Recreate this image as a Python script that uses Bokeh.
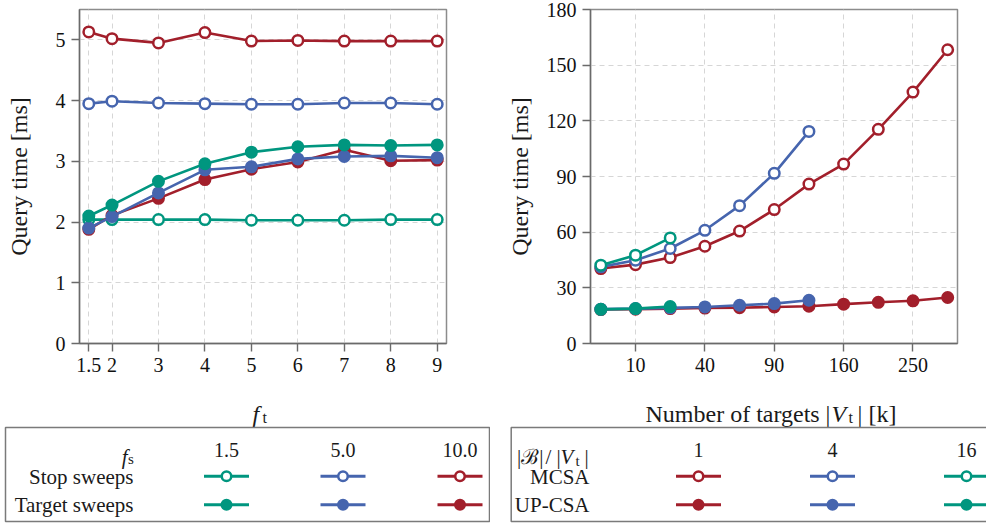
import numpy as np
from bokeh.plotting import figure
from bokeh.models import Range1d, FixedTicker, CustomJSTickFormatter
from bokeh.layouts import row, column
from bokeh.embed import file_html
from bokeh.resources import INLINE
from bokeh.core.properties import value

RED = "#A21F2B"
BLUE = "#4665AE"
GREEN = "#00967F"
FONT = "Liberation Serif"
TXT = "#1a1a1a"

# ---------------- data: left panel ----------------
ft = [1.5, 2, 3, 4, 5, 6, 7, 8, 9]
stop_fs15 = [2.04, 2.04, 2.04, 2.04, 2.03, 2.03, 2.03, 2.04, 2.04]
stop_fs50 = [3.95, 3.99, 3.96, 3.95, 3.94, 3.94, 3.96, 3.96, 3.94]
stop_fs100 = [5.13, 5.02, 4.95, 5.12, 4.98, 4.99, 4.98, 4.98, 4.98]
tgt_fs15 = [2.10, 2.28, 2.67, 2.96, 3.15, 3.24, 3.27, 3.26, 3.27]
tgt_fs50 = [1.90, 2.09, 2.48, 2.86, 2.91, 3.04, 3.08, 3.09, 3.06]
tgt_fs100 = [1.88, 2.11, 2.39, 2.70, 2.87, 2.99, 3.19, 3.01, 3.02]
left_yticks = [0, 1, 2, 3, 4, 5]
fs_labels = ["1.5", "5.0", "10.0"]
fs_colors = [GREEN, BLUE, RED]

# ---------------- data: right panel ----------------
targets_k = [2.5, 10, 22.5, 40, 62.5, 90, 122.5, 160, 202.5, 250, 302.5]
mcsa_1 = [40.4, 42.5, 46.3, 52.4, 60.6, 72.2, 85.9, 96.7, 115.4, 135.5, 158.3]
mcsa_4 = [41.3, 44.9, 51.2, 61.0, 74.3, 91.7, 114.3]
mcsa_16 = [42.2, 47.6, 56.9]
upcsa_1 = [18.3, 18.5, 18.8, 19.1, 19.3, 19.7, 20.1, 21.2, 22.2, 23.0, 24.8]
upcsa_4 = [18.5, 18.8, 19.2, 19.7, 20.6, 21.5, 23.3]
upcsa_16 = [18.4, 18.8, 19.9]
right_xticks = [10, 40, 90, 160, 250]
right_yticks = [0, 30, 60, 90, 120, 150, 180]
ratio_labels = ["1", "4", "16"]
ratio_colors = [RED, BLUE, GREEN]

MS = 10.5
LW = 2.6


def style(p):
    p.background_fill_color = "white"
    p.border_fill_color = "white"
    p.outline_line_color = "#8c8c8c"
    p.outline_line_width = 1.5
    for ax in (p.xaxis, p.yaxis):
        ax.axis_line_color = "#6a6a6a"
        ax.axis_line_width = 1.4
        ax.major_tick_line_color = "#6a6a6a"
        ax.major_tick_line_width = 1.4
        ax.major_tick_out = 8
        ax.major_tick_in = 0
        ax.minor_tick_line_color = None
        ax.major_label_text_font = FONT
        ax.major_label_text_font_size = "20px"
        ax.major_label_text_font_style = "normal"
        ax.major_label_text_color = "#111111"
        ax.major_label_standoff = 6
        ax.axis_label_text_font = FONT
        ax.axis_label_text_font_size = "24px"
        ax.axis_label_text_font_style = "normal"
        ax.axis_label_text_color = TXT
    p.grid.grid_line_color = "#d6d6d6"
    p.grid.grid_line_dash = "5 4"
    p.grid.grid_line_width = 1


def series(p, x, y, color, filled):
    p.line(x, y, line_color=color, line_width=LW)
    p.scatter(x, y, size=MS, line_color=color, line_width=2.5,
              fill_color=color if filled else "white")


# ---------------- left plot ----------------
p1 = figure(width=490, height=390, x_range=Range1d(1.3, 9.2), y_range=Range1d(0, 5.5),
            output_backend="svg", toolbar_location=None,
            min_border_left=79, min_border_right=44, min_border_top=9, min_border_bottom=47)
style(p1)
p1.xaxis.ticker = FixedTicker(ticks=ft)
p1.xaxis.formatter = CustomJSTickFormatter(code="return String(tick);")
p1.yaxis.ticker = FixedTicker(ticks=left_yticks)
p1.yaxis.axis_label = "Query time [ms]"
p1.yaxis.axis_label_standoff = 21

for y, c in zip([stop_fs15, stop_fs50, stop_fs100], fs_colors):
    series(p1, ft, y, c, False)
for y, c in zip([tgt_fs100, tgt_fs50, tgt_fs15], fs_colors[::-1]):
    series(p1, ft, y, c, True)

# ---------------- right plot ----------------
p2 = figure(width=496, height=390, x_range=Range1d(1.11, 17.84), y_range=Range1d(0, 180),
            output_backend="svg", toolbar_location=None,
            min_border_left=100, min_border_right=29, min_border_top=9, min_border_bottom=47)
style(p2)
p2.xaxis.ticker = FixedTicker(ticks=list(np.sqrt(right_xticks)))
p2.xaxis.formatter = CustomJSTickFormatter(code="return String(Math.round(tick*tick));")
p2.yaxis.ticker = FixedTicker(ticks=right_yticks)
p2.yaxis.axis_label = "Query time [ms]"
p2.yaxis.axis_label_standoff = 11

sx = np.sqrt(targets_k)
for y, c in zip([mcsa_1, mcsa_4, mcsa_16], ratio_colors):
    series(p2, sx[:len(y)], y, c, False)
for y, c in zip([upcsa_1, upcsa_4, upcsa_16], ratio_colors):
    series(p2, sx[:len(y)], y, c, True)


# ---------------- legend / x-label panels ----------------
def panel(w, h):
    q = figure(width=w, height=h, x_range=Range1d(0, w), y_range=Range1d(h, 0),
               output_backend="svg", toolbar_location=None,
               x_axis_type=None, y_axis_type=None, min_border=0)
    q.grid.visible = False
    q.outline_line_color = None
    q.background_fill_color = "white"
    q.border_fill_color = "white"
    return q


def txt(q, x, y, s, size, align="left", style_="normal", baseline="alphabetic"):
    q.text([x], [y], text=[s], text_font=value(FONT), text_font_size=size,
           text_font_style=style_, text_align=align, text_baseline=baseline,
           text_color=TXT)


def legend_entries(q, centers, colors, labels, y_head, y_open, y_fill):
    for cx, c, lab in zip(centers, colors, labels):
        txt(q, cx, y_head, lab, "20px", align="center", baseline="middle")
        for yy, filled in ((y_open, False), (y_fill, True)):
            q.line([cx - 22.5, cx + 22.5], [yy, yy], line_color=c, line_width=3)
            q.scatter([cx], [yy], size=9.5, line_color=c, line_width=2.5,
                      fill_color=c if filled else "white")


H2 = 134
l1 = panel(490, H2)
# x label f_t
txt(l1, 252, 23, "f", "24px", style_="italic")
txt(l1, 262, 27, "t", "16px")
l1.quad(left=[5], right=[489], top=[37], bottom=[131], fill_color=None,
        line_color="#7a7a7a", line_width=1.5)
txt(l1, 127, 66, "f", "21px", align="right", style_="italic")
txt(l1, 127.5, 68, "s", "15px")
txt(l1, 133, 86, "Stop sweeps", "21px", align="right", baseline="middle")
txt(l1, 133, 114.5, "Target sweeps", "21px", align="right", baseline="middle")
legend_entries(l1, [226, 342.5, 459.5], fs_colors, fs_labels, 59, 85.7, 114.3)

l2 = panel(496, H2)
# x label Number of targets |V_t| [k]
txt(l2, 155, 23, "Number of targets", "24px")
txt(l2, 335, 23, "|", "24px")
txt(l2, 341, 23, "V", "24px", style_="italic")
txt(l2, 358, 27, "t", "16px")
txt(l2, 367, 23, "|", "24px")
txt(l2, 378, 23, "[k]", "24px")
l2.quad(left=[20.7], right=[540], top=[37], bottom=[131], fill_color=None,
        line_color="#7a7a7a", line_width=1.5)
txt(l2, 26.5, 66, "|ℬ|", "21px")
txt(l2, 55, 66, "/", "21px")
txt(l2, 66, 66, "|", "21px")
txt(l2, 70, 66, "V", "21px", style_="italic")
txt(l2, 85, 70, "t", "15px")
txt(l2, 94, 66, "|", "21px")
txt(l2, 99, 86, "MCSA", "21px", align="right", baseline="middle")
txt(l2, 99, 114.5, "UP-CSA", "21px", align="right", baseline="middle")
legend_entries(l2, [208, 342, 476], ratio_colors, ratio_labels, 59, 85.7, 114.3)

layout = column(row(p1, p2), row(l1, l2))
open("out.html", "w").write(file_html(layout, INLINE))
